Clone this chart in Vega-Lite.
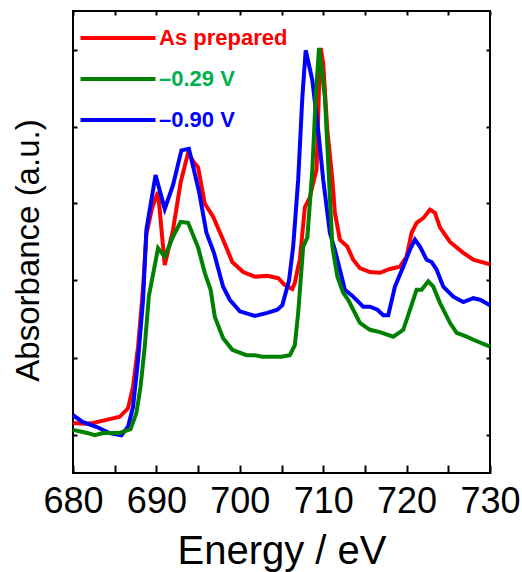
{
  "$schema": "https://vega.github.io/schema/vega-lite/v6.json",
  "width": 417,
  "height": 462,
  "autosize": "none",
  "padding": {"left": 73, "top": 11, "right": 32, "bottom": 99},
  "background": "white",
  "config": {"view": {"stroke": "black", "strokeWidth": 2}, "font": "Liberation Sans"},
  "datasets": {
    "curves": [
      {"s": "As prepared", "E": 680.0, "A": 0.65}, {"s": "As prepared", "E": 681.5, "A": 0.64}, {"s": "As prepared", "E": 682.4, "A": 0.65}, {"s": "As prepared", "E": 684.0, "A": 0.69}, {"s": "As prepared", "E": 685.6, "A": 0.73}, {"s": "As prepared", "E": 686.6, "A": 0.84}, {"s": "As prepared", "E": 687.2, "A": 1.12}, {"s": "As prepared", "E": 687.8, "A": 1.64}, {"s": "As prepared", "E": 688.4, "A": 2.40}, {"s": "As prepared", "E": 688.8, "A": 3.10}, {"s": "As prepared", "E": 689.5, "A": 3.45}, {"s": "As prepared", "E": 690.2, "A": 3.65}, {"s": "As prepared", "E": 691.0, "A": 2.70}, {"s": "As prepared", "E": 692.0, "A": 3.16}, {"s": "As prepared", "E": 692.9, "A": 3.77}, {"s": "As prepared", "E": 693.8, "A": 4.16}, {"s": "As prepared", "E": 694.4, "A": 4.05}, {"s": "As prepared", "E": 695.0, "A": 3.97}, {"s": "As prepared", "E": 695.8, "A": 3.50}, {"s": "As prepared", "E": 696.8, "A": 3.33}, {"s": "As prepared", "E": 698.0, "A": 3.03}, {"s": "As prepared", "E": 699.1, "A": 2.74}, {"s": "As prepared", "E": 700.4, "A": 2.61}, {"s": "As prepared", "E": 701.8, "A": 2.55}, {"s": "As prepared", "E": 703.3, "A": 2.56}, {"s": "As prepared", "E": 704.6, "A": 2.53}, {"s": "As prepared", "E": 705.4, "A": 2.44}, {"s": "As prepared", "E": 706.3, "A": 2.39}, {"s": "As prepared", "E": 706.6, "A": 2.47}, {"s": "As prepared", "E": 707.0, "A": 2.68}, {"s": "As prepared", "E": 707.2, "A": 2.77}, {"s": "As prepared", "E": 707.8, "A": 3.45}, {"s": "As prepared", "E": 708.4, "A": 3.58}, {"s": "As prepared", "E": 708.8, "A": 3.77}, {"s": "As prepared", "E": 709.2, "A": 3.94}, {"s": "As prepared", "E": 709.5, "A": 5.0}, {"s": "As prepared", "E": 709.7, "A": 5.52}, {"s": "As prepared", "E": 710.0, "A": 5.32}, {"s": "As prepared", "E": 710.5, "A": 4.45}, {"s": "As prepared", "E": 711.1, "A": 3.81}, {"s": "As prepared", "E": 711.4, "A": 3.38}, {"s": "As prepared", "E": 712.0, "A": 3.03}, {"s": "As prepared", "E": 712.9, "A": 2.94}, {"s": "As prepared", "E": 713.6, "A": 2.77}, {"s": "As prepared", "E": 714.4, "A": 2.66}, {"s": "As prepared", "E": 715.6, "A": 2.61}, {"s": "As prepared", "E": 716.8, "A": 2.60}, {"s": "As prepared", "E": 718.0, "A": 2.65}, {"s": "As prepared", "E": 719.2, "A": 2.68}, {"s": "As prepared", "E": 720.0, "A": 2.81}, {"s": "As prepared", "E": 720.6, "A": 3.12}, {"s": "As prepared", "E": 721.2, "A": 3.25}, {"s": "As prepared", "E": 722.0, "A": 3.31}, {"s": "As prepared", "E": 722.8, "A": 3.42}, {"s": "As prepared", "E": 723.4, "A": 3.38}, {"s": "As prepared", "E": 724.0, "A": 3.19}, {"s": "As prepared", "E": 725.2, "A": 3.0}, {"s": "As prepared", "E": 726.8, "A": 2.86}, {"s": "As prepared", "E": 728.0, "A": 2.77}, {"s": "As prepared", "E": 730.0, "A": 2.71},

      {"s": "–0.90 V", "E": 680.0, "A": 0.75}, {"s": "–0.90 V", "E": 681.2, "A": 0.66}, {"s": "–0.90 V", "E": 682.8, "A": 0.60}, {"s": "–0.90 V", "E": 684.4, "A": 0.52}, {"s": "–0.90 V", "E": 685.8, "A": 0.49}, {"s": "–0.90 V", "E": 686.6, "A": 0.60}, {"s": "–0.90 V", "E": 687.2, "A": 0.86}, {"s": "–0.90 V", "E": 687.8, "A": 1.47}, {"s": "–0.90 V", "E": 688.4, "A": 2.25}, {"s": "–0.90 V", "E": 688.8, "A": 3.16}, {"s": "–0.90 V", "E": 689.9, "A": 3.87}, {"s": "–0.90 V", "E": 691.0, "A": 3.43}, {"s": "–0.90 V", "E": 692.0, "A": 3.74}, {"s": "–0.90 V", "E": 693.0, "A": 4.19}, {"s": "–0.90 V", "E": 693.9, "A": 4.21}, {"s": "–0.90 V", "E": 695.1, "A": 3.66}, {"s": "–0.90 V", "E": 696.0, "A": 3.12}, {"s": "–0.90 V", "E": 696.9, "A": 2.86}, {"s": "–0.90 V", "E": 698.0, "A": 2.42}, {"s": "–0.90 V", "E": 698.8, "A": 2.25}, {"s": "–0.90 V", "E": 700.0, "A": 2.10}, {"s": "–0.90 V", "E": 701.8, "A": 2.04}, {"s": "–0.90 V", "E": 703.3, "A": 2.08}, {"s": "–0.90 V", "E": 704.5, "A": 2.12}, {"s": "–0.90 V", "E": 705.1, "A": 2.18}, {"s": "–0.90 V", "E": 705.9, "A": 2.50}, {"s": "–0.90 V", "E": 706.4, "A": 2.94}, {"s": "–0.90 V", "E": 707.0, "A": 3.81}, {"s": "–0.90 V", "E": 707.5, "A": 4.88}, {"s": "–0.90 V", "E": 707.9, "A": 5.49}, {"s": "–0.90 V", "E": 708.7, "A": 5.10}, {"s": "–0.90 V", "E": 709.4, "A": 4.45}, {"s": "–0.90 V", "E": 710.0, "A": 3.81}, {"s": "–0.90 V", "E": 710.8, "A": 3.12}, {"s": "–0.90 V", "E": 711.4, "A": 2.90}, {"s": "–0.90 V", "E": 712.0, "A": 2.64}, {"s": "–0.90 V", "E": 712.6, "A": 2.38}, {"s": "–0.90 V", "E": 713.5, "A": 2.30}, {"s": "–0.90 V", "E": 714.8, "A": 2.16}, {"s": "–0.90 V", "E": 715.6, "A": 2.16}, {"s": "–0.90 V", "E": 716.5, "A": 2.12}, {"s": "–0.90 V", "E": 717.2, "A": 2.05}, {"s": "–0.90 V", "E": 717.8, "A": 2.05}, {"s": "–0.90 V", "E": 718.6, "A": 2.42}, {"s": "–0.90 V", "E": 719.6, "A": 2.68}, {"s": "–0.90 V", "E": 720.4, "A": 2.90}, {"s": "–0.90 V", "E": 721.0, "A": 3.03}, {"s": "–0.90 V", "E": 721.6, "A": 2.94}, {"s": "–0.90 V", "E": 722.4, "A": 2.77}, {"s": "–0.90 V", "E": 723.0, "A": 2.74}, {"s": "–0.90 V", "E": 723.6, "A": 2.64}, {"s": "–0.90 V", "E": 724.4, "A": 2.42}, {"s": "–0.90 V", "E": 725.6, "A": 2.29}, {"s": "–0.90 V", "E": 726.8, "A": 2.22}, {"s": "–0.90 V", "E": 728.0, "A": 2.27}, {"s": "–0.90 V", "E": 728.8, "A": 2.25}, {"s": "–0.90 V", "E": 730.0, "A": 2.18},

      {"s": "–0.29 V", "E": 680.0, "A": 0.56}, {"s": "–0.29 V", "E": 681.7, "A": 0.52}, {"s": "–0.29 V", "E": 682.6, "A": 0.49}, {"s": "–0.29 V", "E": 683.6, "A": 0.52}, {"s": "–0.29 V", "E": 685.6, "A": 0.52}, {"s": "–0.29 V", "E": 686.9, "A": 0.57}, {"s": "–0.29 V", "E": 687.6, "A": 0.78}, {"s": "–0.29 V", "E": 688.1, "A": 1.12}, {"s": "–0.29 V", "E": 688.6, "A": 1.64}, {"s": "–0.29 V", "E": 689.1, "A": 2.30}, {"s": "–0.29 V", "E": 690.2, "A": 2.92}, {"s": "–0.29 V", "E": 691.0, "A": 2.81}, {"s": "–0.29 V", "E": 692.0, "A": 3.07}, {"s": "–0.29 V", "E": 692.9, "A": 3.26}, {"s": "–0.29 V", "E": 693.8, "A": 3.25}, {"s": "–0.29 V", "E": 695.0, "A": 2.93}, {"s": "–0.29 V", "E": 695.8, "A": 2.60}, {"s": "–0.29 V", "E": 696.5, "A": 2.38}, {"s": "–0.29 V", "E": 697.0, "A": 2.03}, {"s": "–0.29 V", "E": 698.0, "A": 1.75}, {"s": "–0.29 V", "E": 699.1, "A": 1.60}, {"s": "–0.29 V", "E": 700.8, "A": 1.53}, {"s": "–0.29 V", "E": 701.8, "A": 1.53}, {"s": "–0.29 V", "E": 702.7, "A": 1.51}, {"s": "–0.29 V", "E": 703.8, "A": 1.51}, {"s": "–0.29 V", "E": 705.0, "A": 1.51}, {"s": "–0.29 V", "E": 706.0, "A": 1.53}, {"s": "–0.29 V", "E": 706.6, "A": 1.66}, {"s": "–0.29 V", "E": 707.0, "A": 2.08}, {"s": "–0.29 V", "E": 707.6, "A": 2.94}, {"s": "–0.29 V", "E": 708.1, "A": 3.06}, {"s": "–0.29 V", "E": 708.7, "A": 3.94}, {"s": "–0.29 V", "E": 709.1, "A": 4.88}, {"s": "–0.29 V", "E": 709.5, "A": 5.52}, {"s": "–0.29 V", "E": 710.2, "A": 4.88}, {"s": "–0.29 V", "E": 710.7, "A": 3.81}, {"s": "–0.29 V", "E": 711.1, "A": 2.94}, {"s": "–0.29 V", "E": 711.7, "A": 2.55}, {"s": "–0.29 V", "E": 712.4, "A": 2.34}, {"s": "–0.29 V", "E": 713.0, "A": 2.25}, {"s": "–0.29 V", "E": 713.6, "A": 2.12}, {"s": "–0.29 V", "E": 714.4, "A": 1.95}, {"s": "–0.29 V", "E": 715.6, "A": 1.86}, {"s": "–0.29 V", "E": 716.8, "A": 1.83}, {"s": "–0.29 V", "E": 718.4, "A": 1.77}, {"s": "–0.29 V", "E": 719.6, "A": 1.86}, {"s": "–0.29 V", "E": 720.4, "A": 2.12}, {"s": "–0.29 V", "E": 721.2, "A": 2.38}, {"s": "–0.29 V", "E": 721.8, "A": 2.38}, {"s": "–0.29 V", "E": 722.6, "A": 2.49}, {"s": "–0.29 V", "E": 723.2, "A": 2.42}, {"s": "–0.29 V", "E": 724.0, "A": 2.21}, {"s": "–0.29 V", "E": 725.2, "A": 1.95}, {"s": "–0.29 V", "E": 726.0, "A": 1.82}, {"s": "–0.29 V", "E": 727.2, "A": 1.77}, {"s": "–0.29 V", "E": 728.0, "A": 1.73}, {"s": "–0.29 V", "E": 730.0, "A": 1.64}
    ]
  },
  "data": {"name": "curves"},
  "layer": [
    {
      "transform": [{"filter": "datum.s === 'As prepared'"}],
      "mark": {"type": "line", "strokeWidth": 4},
      "encoding": {
        "x": {
          "field": "E", "type": "quantitative",
          "scale": {"domain": [680, 730], "nice": false, "zero": false},
          "axis": {
            "values": [680, 685, 690, 695, 700, 705, 710, 715, 720, 725, 730],
            "labelExpr": "datum.value % 10 === 0 ? datum.label : ''",
            "labelFlush": false, "labelOverlap": false,
            "tickSize": -8, "tickColor": "black", "tickWidth": 2,
            "domain": false, "grid": false,
            "labelFontSize": 36, "labelColor": "black", "labelFont": "Liberation Sans",
            "labelPadding": 47, "labelBaseline": "alphabetic",
            "title": "Energy / eV", "titleFontSize": 40, "titleFontWeight": "normal", "titleColor": "black",
            "titleFont": "Liberation Sans", "titleY": 90, "titleBaseline": "alphabetic",
            "encode": {"ticks": {"update": {"y2": {"signal": "datum.value % 10 === 0 ? -8 : -4"}}}}
          }
        },
        "y": {
          "field": "A", "type": "quantitative",
          "scale": {"domain": [0, 6], "nice": false, "zero": false},
          "axis": {
            "values": [0.5, 1.5, 2.5, 3.5, 4.5, 5.5],
            "labels": false, "tickSize": -4, "tickColor": "black", "tickWidth": 2,
            "domain": false, "grid": false,
            "title": "Absorbance (a.u.)", "titleFontSize": 33, "titleFontWeight": "normal", "titleColor": "black",
            "titleFont": "Liberation Sans", "titleX": -35, "titleY": 239, "titleBaseline": "alphabetic"
          }
        },
        "color": {
          "field": "s", "type": "nominal",
          "scale": {"domain": ["As prepared", "–0.29 V", "–0.90 V"], "range": ["#ff0000", "#008000", "#0000ff"]},
          "legend": {
            "orient": "none", "legendX": 33, "legendY": 15, "title": null,
            "symbolType": "M-3.75,0H3.75", "symbolSize": 400, "symbolStrokeWidth": 4,
            "labelFontSize": 22, "labelFontWeight": "bold", "labelFont": "Liberation Sans",
            "labelOffset": 29, "rowPadding": 18, "padding": 0, "labelLimit": 300,
            "encode": {"labels": {"update": {"fill": {"signal": "datum.value === 'As prepared' ? '#ff0000' : (datum.value === '–0.29 V' ? '#00b050' : '#0000ff')"}}}}
          }
        }
      }
    },
    {
      "transform": [{"filter": "datum.s === '–0.90 V'"}],
      "mark": {"type": "line", "strokeWidth": 4},
      "encoding": {
        "x": {"field": "E", "type": "quantitative", "axis": null},
        "y": {"field": "A", "type": "quantitative", "axis": null},
        "color": {"field": "s", "type": "nominal"}
      }
    },
    {
      "transform": [{"filter": "datum.s === '–0.29 V'"}],
      "mark": {"type": "line", "strokeWidth": 4},
      "encoding": {
        "x": {"field": "E", "type": "quantitative", "axis": null},
        "y": {"field": "A", "type": "quantitative", "axis": null},
        "color": {"field": "s", "type": "nominal"}
      }
    },
    {
      "mark": {"type": "line", "strokeOpacity": 0},
      "encoding": {
        "x": {
          "field": "E", "type": "quantitative",
          "axis": {
            "orient": "top", "values": [680, 685, 690, 695, 700, 705, 710, 715, 720, 725, 730],
            "labels": false, "tickSize": -4, "tickColor": "black", "tickWidth": 2,
            "domain": false, "grid": false, "title": null
          }
        },
        "y": {
          "field": "A", "type": "quantitative",
          "axis": {
            "orient": "right", "values": [0.5, 1.5, 2.5, 3.5, 4.5, 5.5],
            "labels": false, "tickSize": -4, "tickColor": "black", "tickWidth": 2,
            "domain": false, "grid": false, "title": null
          }
        },
        "detail": {"field": "s"}
      }
    }
  ],
  "resolve": {"axis": {"x": "independent", "y": "independent"}}
}
